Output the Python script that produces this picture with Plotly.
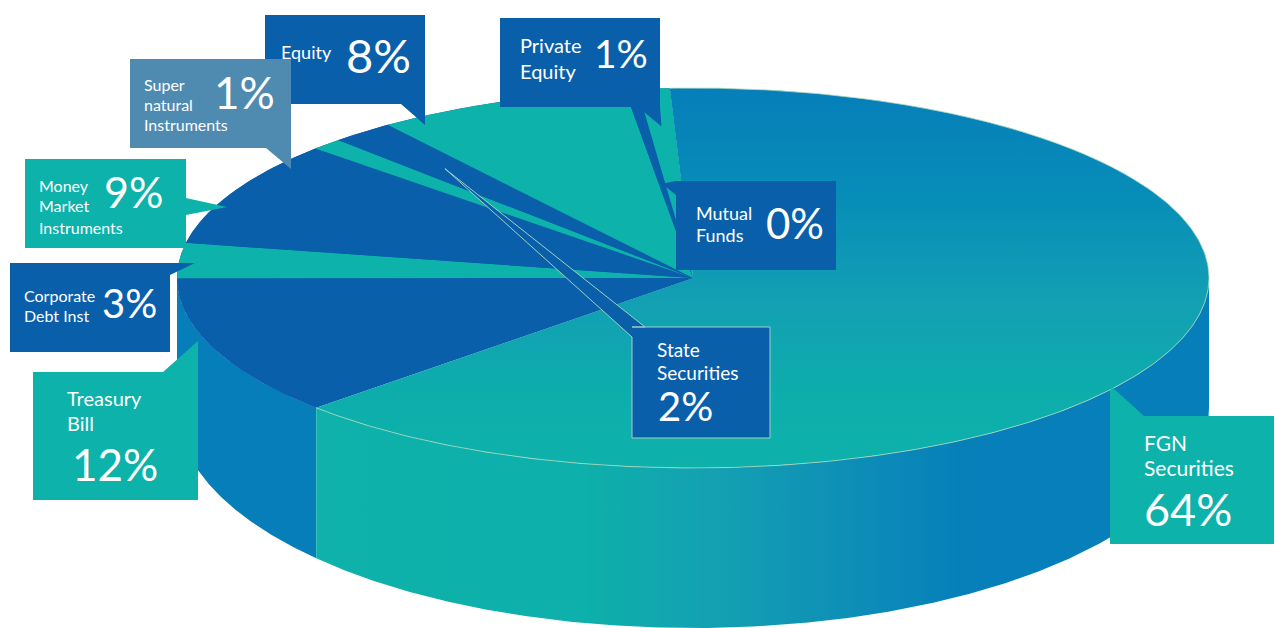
import numpy as np
import plotly.graph_objects as go

# Portfolio allocation, listed clockwise from the front edge of the disc
categories = ["Treasury Bill", "Corporate Debt Inst", "Money Market Instruments",
              "Super natural Instruments", "State Securities", "Equity",
              "Mutual Funds", "Private Equity", "FGN Securities"]
values = [12, 3, 9, 1, 2, 8, 0.4, 1, 64]
label_lines = [["Treasury", "Bill"], ["Corporate", "Debt Inst"],
               ["Money", "Market", "Instruments"], ["Super", "natural", "Instruments"],
               ["State", "Securities"], ["Equity"], ["Mutual", "Funds"],
               ["Private", "Equity"], ["FGN", "Securities"]]

BLUE = "#0a5fab"
TEAL = "#0db2aa"
WALL_BLUE = "#067eba"
STEEL = "#4f8bb0"
EDGE = "#a9d8bb"
FONT = "Lato"

# Disc projection: a tilted circle with a visible side wall
CX, CY, RX, RY = 693, 278, 516, 190
WALL_DROP, WALL_RY = 130, 220
START_DEG = 136.9

fractions = np.array(values) / sum(values)
edges = START_DEG + 360 * np.concatenate([[0], np.cumsum(fractions)])
span = dict(zip(categories, zip(edges[:-1], edges[1:])))


def top_xy(deg, r=1.0):
    t = np.radians(deg)
    return CX + r * RX * np.cos(t), CY + r * RY * np.sin(t)


def wedge_xy(cat):
    a, b = span[cat]
    x, y = top_xy(np.linspace(a, b, 400))
    return np.r_[CX, x, CX], np.r_[CY, y, CY]


def wall_xy(a, b):
    ts = np.linspace(a, b, 300)
    x, y = top_xy(ts)
    t = np.radians(ts)
    lower = CY + WALL_DROP + WALL_RY * np.sin(t)
    return np.r_[x, x[::-1], x[0]], np.r_[y, lower[::-1], y[0]]


def mid_point(cat, r):
    a, b = span[cat]
    return top_xy((a + b) / 2, r)


fig = go.Figure()
no_line = dict(width=0)

# Side wall: only the front half of the disc shows one
tb_a, tb_b = span["Treasury Bill"]
x, y = wall_xy(tb_a, 180)
fig.add_trace(go.Scatter(x=x, y=y, fill="toself", fillcolor=WALL_BLUE, mode="lines",
                         line=no_line, hoverinfo="skip"))
x, y = wall_xy(0, tb_a)
fig.add_trace(go.Scatter(
    x=x, y=y, fill="toself", mode="lines", line=no_line, hoverinfo="skip",
    fillgradient=dict(type="horizontal", colorscale=[
        [0, TEAL], [0.3, "#0db0aa"], [0.45, "#14a0b2"], [0.72, "#0780ba"], [1, WALL_BLUE]])))

# Solid underlay so no white seams show between neighbouring slices
a0, a1 = span["Treasury Bill"][0], span["Private Equity"][1]
x, y = top_xy(np.linspace(a0, a1, 400))
fig.add_trace(go.Scatter(x=np.r_[CX, x, CX], y=np.r_[CY, y, CY], fill="toself", fillcolor=BLUE,
                         mode="lines", line=no_line, hoverinfo="skip"))

# Top face: the gradient runs from the lower rim up to the back of the disc
x, y = wedge_xy("FGN Securities")
fig.add_trace(go.Scatter(
    x=x, y=y, fill="toself", mode="lines", line=no_line, hoverinfo="skip",
    fillgradient=dict(type="vertical", colorscale=[
        [0, TEAL], [0.2, "#0dadac"], [0.45, "#139fb3"], [0.7, "#078eb8"], [1, "#067eba"]])))
for i, cat in enumerate(categories[:-1]):
    x, y = wedge_xy(cat)
    fig.add_trace(go.Scatter(x=x, y=y, fill="toself", fillcolor=BLUE if i % 2 == 0 else TEAL,
                             mode="lines", line=no_line, hoverinfo="skip"))
a, b = span["FGN Securities"]
x, y = top_xy(np.linspace(a, b, 500))
fig.add_trace(go.Scatter(x=x, y=y, mode="lines", line=dict(color=EDGE, width=0.8), hoverinfo="skip"))


def poly(points):
    return "M" + " L".join(f"{px:.1f},{py:.1f}" for px, py in points) + " Z"


def callout(points, fill, outline=None):
    fig.add_shape(type="path", path=poly(points), fillcolor=fill, layer="above",
                  line=dict(color=outline or fill, width=1 if outline else 0))


# Callout boxes, each with a pointer onto its slice
px_, py_ = mid_point("Private Equity", 0.8)
mx_, my_ = mid_point("Mutual Funds", 0.5)
sx_, sy_ = mid_point("State Securities", 0.75)
callout([(265, 15), (425, 15), (425, 125), (401, 104), (265, 104)], BLUE)
callout([(130, 59), (291, 59), (291, 169), (266, 148), (130, 148)], STEEL)
callout([(25, 159), (186, 159), (186, 198), (227, 207), (186, 215), (186, 248), (25, 248)], TEAL)
callout([(10, 263), (195, 263), (170, 275), (170, 352), (10, 352)], BLUE)
callout([(33, 372), (163, 372), (198, 341), (198, 500), (33, 500)], TEAL)
callout([(1110, 416), (1110, 390), (1113, 388), (1144, 416), (1274, 416), (1274, 544), (1110, 544)], TEAL)
callout([(500, 18), (660, 18), (660, 107), (px_, py_), (638, 107), (500, 107)], BLUE)
callout([(676, 181), (836, 181), (836, 270), (676, 270), (676, 195), (mx_, my_)], BLUE)
callout([(632, 327), (645, 327), (sx_, sy_), (632, 337), (632, 438), (770, 438), (770, 327)], BLUE, outline="#9fd0c4")


def text(x_, y_, s, size):
    fig.add_annotation(x=x_, y=y_, text=s, showarrow=False, xanchor="left", yanchor="middle",
                       font=dict(family=FONT, size=size, color="white", weight=400))


def pct(cat):
    return f"{round(values[categories.index(cat)])}%"


def lines_for(cat):
    return label_lines[categories.index(cat)]


# (category, name x, name y positions, name size, percent x, percent y, percent size)
placement = [
    ("Equity", 279, [52], 18, 344, 55, 47),
    ("Super natural Instruments", 142, [84, 104, 124], 16, 212, 92, 44),
    ("Money Market Instruments", 37, [185, 205, 227], 16, 102, 191, 43),
    ("Corporate Debt Inst", 22, [295, 315], 16, 100, 303, 40),
    ("Treasury Bill", 65, [398, 423], 20, 70, 464, 44),
    ("FGN Securities", 1142, [442, 467], 21, 1142, 509, 45),
    ("State Securities", 655, [349, 372], 19, 656, 406, 40),
    ("Private Equity", 518, [45, 71], 20, 592, 53, 39),
    ("Mutual Funds", 694, [213, 235], 18, 764, 223, 42),
]
for cat, nx, nys, ns, qx, qy, qs in placement:
    for s, ny in zip(lines_for(cat), nys):
        text(nx, ny, s, ns)
    text(qx, qy, pct(cat), qs)

fig.update_layout(
    width=1276, height=628, margin=dict(l=0, r=0, t=0, b=0),
    paper_bgcolor="white", plot_bgcolor="white", showlegend=False,
    xaxis=dict(range=[0, 1276], visible=False, fixedrange=True),
    yaxis=dict(range=[628, 0], visible=False, fixedrange=True),
)
fig.write_html("out.html")
